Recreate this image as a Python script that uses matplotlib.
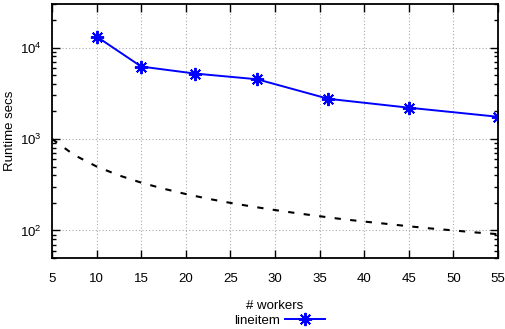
import matplotlib.pyplot as plt
from matplotlib.ticker import LogLocator, NullFormatter

plt.rcParams['font.family'] = ['Liberation Sans', 'DejaVu Sans']

# measured runtimes
workers = [10, 15, 21, 28, 36, 45, 55]
runtime = [13200, 6200, 5200, 4500, 2750, 2200, 1750]

# ideal scaling reference (dashed)
ideal_x = [5, 7.5, 10, 12.5, 15, 17.5, 20, 22.5, 25, 27.5, 30, 32.5, 35,
           37.5, 40, 42.5, 45, 47.5, 50, 52.5, 55]
ideal_y = [1000, 667, 500, 400, 333, 286, 250, 222, 200, 182, 167, 154, 143,
           133, 125, 118, 111, 105, 100, 95, 91]

xticks = [5, 10, 15, 20, 25, 30, 35, 40, 45, 50, 55]

fig = plt.figure(figsize=(5.05, 3.29), dpi=100)
ax = fig.add_axes([0.103, 0.216, 0.883, 0.772])

ax.plot(ideal_x, ideal_y, color='black', lw=1.5, dashes=(3, 4.5))
ax.plot(workers, runtime, color='#0000ff', lw=1.4, marker=(8, 2, 0),
        ms=9.5, mew=1.4, label='lineitem')

ax.set_yscale('log')
ax.set_xlim(5, 55)
ax.set_ylim(50, 30000)
ax.set_xticks(xticks)
ax.yaxis.set_major_locator(LogLocator(base=10, numticks=10))
ax.yaxis.set_minor_locator(LogLocator(base=10, subs=range(2, 10), numticks=20))
ax.yaxis.set_minor_formatter(NullFormatter())

ax.tick_params(which='both', direction='in', top=True, right=True,
               labelsize=9.5, width=1)
ax.tick_params(axis='x', which='major', length=6, pad=11)
ax.tick_params(axis='y', which='major', length=6, pad=7.5)
ax.tick_params(axis='y', which='minor', length=3)
ax.tick_params(axis='x', which='minor', bottom=False, top=False)

ax.grid(True, which='major', color='#aaaaaa', linestyle=(0, (1, 2)), lw=0.8)
for s in ax.spines.values():
    s.set_linewidth(1.3)

ax.set_ylabel('Runtime secs', fontsize=9.5)
ax.yaxis.set_label_coords(-0.08, 0.5)
ax.set_xlabel('# workers', fontsize=9.5, labelpad=11)

fig.legend(loc='center', bbox_to_anchor=(0.553, 0.026), frameon=False,
           markerfirst=False, fontsize=9.5, handlelength=3.0,
           handletextpad=0.4, borderpad=0)

fig.savefig('out.png', dpi=100)
